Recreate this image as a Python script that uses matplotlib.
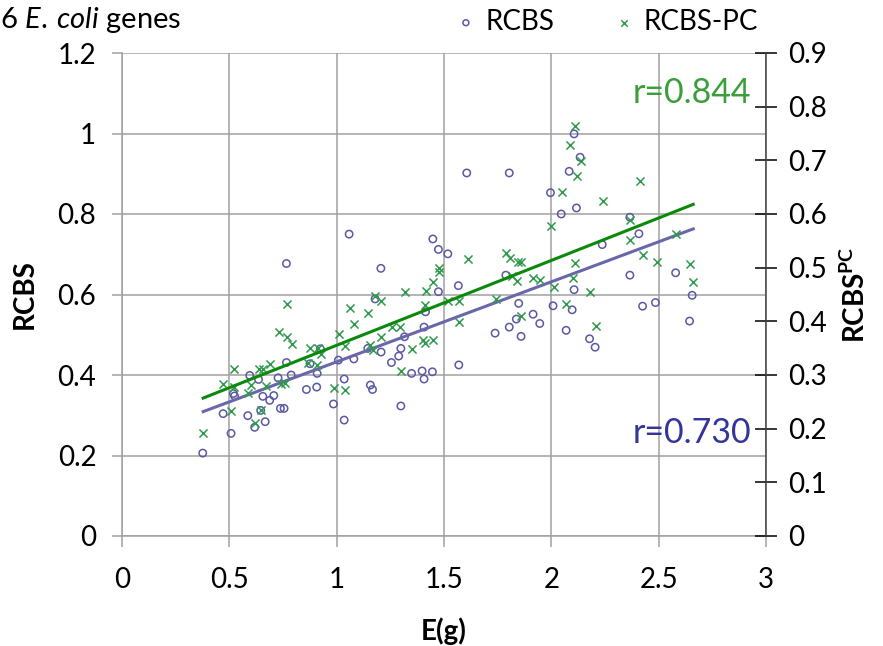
import matplotlib
matplotlib.use("Agg")
import matplotlib.pyplot as plt

plt.rcParams['font.family'] = ['Lato', 'DejaVu Sans']
plt.rcParams['mathtext.fontset'] = 'custom'
plt.rcParams['mathtext.rm'] = 'Lato'
plt.rcParams['mathtext.it'] = 'Lato:italic'
plt.rcParams['mathtext.bf'] = 'Lato:bold'

# ---- data ----
rcbs_x = [0.766, 1.058, 1.206, 1.448, 1.474, 1.518, 1.474, 1.179,
          1.414, 1.407, 1.316, 1.299, 1.289, 1.255, 1.207, 1.145, 1.080, 1.008,
          0.924, 0.876, 0.909, 0.766, 0.788, 0.727, 0.595, 0.636, 0.519, 0.524,
          0.471, 0.508, 0.376, 0.586, 0.618, 0.667, 0.646, 0.656, 0.688, 0.707,
          0.738, 0.755, 0.859, 0.907, 0.985, 1.035, 1.035, 1.157, 1.167, 1.299,
          1.349, 1.398, 1.407, 1.446,
          1.606, 1.804, 2.106, 2.134, 2.083, 1.996, 2.046, 2.117, 2.366, 2.408,
          2.237, 1.567, 1.788, 2.106, 2.366, 2.579, 2.656,
          1.848, 2.008, 2.097, 2.425, 2.485, 2.644, 1.837, 1.915, 1.946, 1.804,
          1.859, 1.738, 2.069, 2.178, 2.204, 1.569]
rcbs_y = [0.677, 0.750, 0.665, 0.738, 0.712, 0.701, 0.607, 0.589,
          0.557, 0.519, 0.495, 0.466, 0.447, 0.431, 0.457, 0.466, 0.440, 0.437,
          0.465, 0.428, 0.404, 0.431, 0.400, 0.393, 0.399, 0.389, 0.354, 0.348,
          0.304, 0.255, 0.206, 0.299, 0.270, 0.284, 0.312, 0.347, 0.337, 0.349,
          0.317, 0.317, 0.364, 0.370, 0.328, 0.390, 0.288, 0.375, 0.364, 0.323,
          0.404, 0.410, 0.390, 0.408,
          0.902, 0.902, 0.999, 0.941, 0.906, 0.853, 0.800, 0.815, 0.792, 0.751,
          0.724, 0.622, 0.648, 0.612, 0.648, 0.654, 0.598,
          0.578, 0.572, 0.562, 0.571, 0.580, 0.534, 0.539, 0.551, 0.528, 0.519,
          0.496, 0.504, 0.511, 0.490, 0.469, 0.425]

# RCBS-PC values on the right axis scale (0 - 0.9)
pc_x = [1.179, 1.317, 1.414, 1.449, 1.476, 1.477,
        0.769, 1.207, 1.411, 1.519, 1.148, 1.060, 1.080, 1.010, 1.039, 1.207,
        1.257, 1.294, 1.157, 1.170, 1.351, 1.400, 1.412, 1.451, 1.302, 0.730,
        0.769, 0.791, 0.876, 0.915, 0.929, 0.909, 0.865, 0.691, 0.637, 0.656,
        0.522, 0.472, 0.524, 0.601, 0.589, 0.671, 0.740, 0.758, 0.988, 1.038,
        0.510, 0.648, 0.620, 0.378,
        2.108, 2.086, 2.136, 2.119, 2.049, 2.412, 2.240, 1.999, 2.366, 2.367,
        2.580, 2.428, 2.490, 2.645, 2.658, 2.111, 2.100, 2.012, 1.788, 1.807,
        1.845, 1.861, 1.817, 1.841, 1.915, 1.948, 1.612, 1.741, 2.181,
        1.570, 1.570, 1.859, 2.069, 2.206]
pc_y = [0.448, 0.454, 0.456, 0.473, 0.500, 0.492,
        0.432, 0.437, 0.431, 0.437, 0.415, 0.425, 0.395, 0.377, 0.354, 0.370,
        0.390, 0.389, 0.356, 0.347, 0.348, 0.366, 0.360, 0.366, 0.307, 0.380,
        0.370, 0.357, 0.350, 0.350, 0.339, 0.318, 0.323, 0.320, 0.312, 0.311,
        0.311, 0.284, 0.278, 0.281, 0.266, 0.279, 0.284, 0.286, 0.276, 0.272,
        0.232, 0.234, 0.211, 0.191,
        0.764, 0.728, 0.698, 0.671, 0.641, 0.662, 0.625, 0.578, 0.588, 0.551,
        0.562, 0.524, 0.511, 0.506, 0.473, 0.509, 0.481, 0.464, 0.528, 0.518,
        0.510, 0.510, 0.484, 0.476, 0.481, 0.477, 0.517, 0.441, 0.454,
        0.438, 0.398, 0.410, 0.432, 0.392]

# trend lines (end points)
fit_x = [0.378, 2.661]
rcbs_fit = [0.309, 0.763]
pc_fit = [0.257, 0.618]

r_rcbs = "r=0.730"
r_pc = "r=0.844"

x_ticks = [0, 0.5, 1, 1.5, 2, 2.5, 3]
x_ticklabels = ["0", "0.5", "1", "1.5", "2", "2.5", "3"]
left_ticks = [0, 0.2, 0.4, 0.6, 0.8, 1.0, 1.2]
left_ticklabels = ["0", "0.2", "0.4", "0.6", "0.8", "1", "1.2"]
right_ticks = [0, 0.1, 0.2, 0.3, 0.4, 0.5, 0.6, 0.7, 0.8, 0.9]
right_ticklabels = ["0", "0.1", "0.2", "0.3", "0.4", "0.5", "0.6", "0.7", "0.8", "0.9"]

# ---- colours ----
c_circ = "#5a58a4"
c_cross = "#2f9a4c"
c_line_p = "#6a66aa"
c_line_g = "#0a8a0a"
c_txt_g = "#3a9e3a"
c_txt_p = "#34349a"
grid_c = "#a0a0a0"

FS = 20

fig = plt.figure(figsize=(8.83, 6.46), dpi=100)
ax = fig.add_axes([122/883, 1 - 536/646, (766-122)/883, (536-53)/646])
ax2 = ax.twinx()

ax.set_xlim(0, 3)
ax.set_ylim(0, 1.2)
ax2.set_ylim(0, 0.9)

ax.set_xticks(x_ticks)
ax.set_xticklabels(x_ticklabels)
ax.set_yticks(left_ticks)
ax.set_yticklabels(left_ticklabels)
ax2.set_yticks(right_ticks)
ax2.set_yticklabels(right_ticklabels)

ax.grid(True, color=grid_c, linewidth=1.1)
ax.set_axisbelow(True)
ax.spines["top"].set_visible(False)
ax2.spines["top"].set_visible(False)
ax.spines["right"].set_visible(False)
ax2.spines["left"].set_visible(False)
ax2.spines["bottom"].set_visible(False)
ax.spines["left"].set_color(grid_c)
ax.spines["bottom"].set_color(grid_c)
ax.spines["left"].set_linewidth(1.1)
ax.spines["bottom"].set_linewidth(1.1)
ax2.spines["right"].set_color("#404040")
ax2.spines["right"].set_linewidth(1.1)

ax.tick_params(axis="x", direction="out", length=8, width=1.1, color=grid_c,
               labelsize=FS, pad=14)
ax.tick_params(axis="y", direction="out", length=7.5, width=1.1, color=grid_c,
               labelsize=FS, pad=11)
ax2.tick_params(axis="y", direction="inout", length=16, width=1.1, color="#000000",
                labelsize=FS, pad=8)

# data
ax.scatter(rcbs_x, rcbs_y, s=28, facecolors="none", edgecolors=c_circ,
           linewidths=1.1, zorder=3, label="RCBS")
ax2.scatter(pc_x, pc_y, s=34, marker="x", color=c_cross, linewidths=1.1,
            zorder=3, label="RCBS-PC")
ax.plot(fit_x, rcbs_fit, color=c_line_p, linewidth=2.2, zorder=4)
ax2.plot(fit_x, pc_fit, color=c_line_g, linewidth=2.2, zorder=4)

ax.text(2.93, 0.255, r_rcbs, color=c_txt_p, fontsize=24.5, ha="right", va="center")
ax2.text(2.93, 0.825, r_pc, color=c_txt_g, fontsize=24.5, ha="right", va="center")

ax.set_xlabel("E(g)", fontsize=FS, fontweight="bold", labelpad=18)
ax.set_ylabel("RCBS", fontsize=FS, fontweight="bold", labelpad=14)
ax2.set_ylabel(r"$\mathbf{RCBS}^{\mathbf{PC}}$", fontsize=FS, labelpad=10)

# legend
h1, l1 = ax.get_legend_handles_labels()
h2, l2 = ax2.get_legend_handles_labels()
fig.legend(h1 + h2, l1 + l2, loc="center left",
           bbox_to_anchor=(452/883, 1 - 22/646), borderaxespad=0, borderpad=0,
           ncol=2, frameon=False, fontsize=FS, markerscale=0.8,
           handletextpad=0.2, columnspacing=2.0, handlelength=1.0)

# partial title at top-left
fig.text(0.0, 1 - 20/646, r"6 $\mathit{E.\:coli}$ genes", fontsize=21,
         ha="left", va="center")

fig.savefig("out.png", dpi=100)
